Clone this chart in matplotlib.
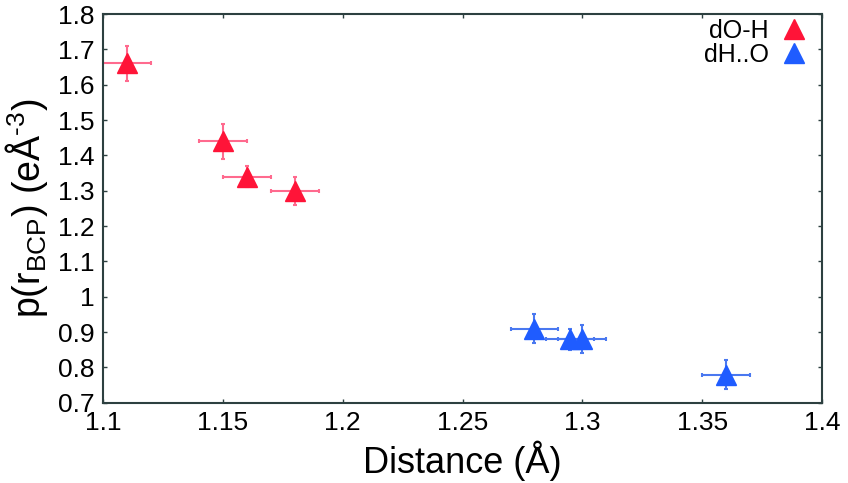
import matplotlib.pyplot as plt

plt.rcParams['font.family'] = ['Liberation Sans', 'DejaVu Sans']
plt.rcParams['mathtext.fontset'] = 'custom'
plt.rcParams['mathtext.rm'] = 'Liberation Sans'

# dO-H (red)
oh_x = [1.11, 1.15, 1.16, 1.18]
oh_y = [1.66, 1.44, 1.34, 1.30]
oh_xerr = [0.01, 0.01, 0.01, 0.01]
oh_yerr = [0.05, 0.05, 0.03, 0.04]

# dH..O (blue)
ho_x = [1.28, 1.295, 1.30, 1.36]
ho_y = [0.91, 0.88, 0.88, 0.78]
ho_xerr = [0.01, 0.01, 0.01, 0.01]
ho_yerr = [0.04, 0.03, 0.04, 0.04]

xticks = [1.1, 1.15, 1.2, 1.25, 1.3, 1.35, 1.4]
xtick_labels = ['1.1', '1.15', '1.2', '1.25', '1.3', '1.35', '1.4']
yticks = [0.7, 0.8, 0.9, 1.0, 1.1, 1.2, 1.3, 1.4, 1.5, 1.6, 1.7, 1.8]
ytick_labels = ['0.7', '0.8', '0.9', '1', '1.1', '1.2', '1.3', '1.4', '1.5', '1.6', '1.7', '1.8']

fig = plt.figure(figsize=(8.48, 4.83), dpi=100)
ax = fig.add_axes([0.1215, 0.166, 0.848, 0.805])

ax.errorbar(oh_x, oh_y, xerr=oh_xerr, yerr=oh_yerr, fmt='none', ecolor='#ff6a8e',
            elinewidth=1.5, capsize=1.5, capthick=1.5, zorder=2)
ax.plot(oh_x, oh_y, '^', color='#ff1438', markersize=14, label='dO-H', zorder=3)
ax.errorbar(ho_x, ho_y, xerr=ho_xerr, yerr=ho_yerr, fmt='none', ecolor='#4a78f0',
            elinewidth=1.5, capsize=1.5, capthick=1.5, zorder=2)
ax.plot(ho_x, ho_y, '^', color='#1f5cff', markersize=14, label='dH..O', zorder=3)

ax.set_xlim(1.1, 1.4)
ax.set_ylim(0.7, 1.8)
ax.set_xticks(xticks)
ax.set_xticklabels(xtick_labels)
ax.set_yticks(yticks)
ax.set_yticklabels(ytick_labels)
ax.tick_params(direction='in', top=True, right=True, length=3, width=1,
               color='#2d4040', labelsize=19, pad=6)
for s in ax.spines.values():
    s.set_color('#2d4040')
    s.set_linewidth(1.5)

ax.set_xlabel('Distance (Å)', fontsize=26, labelpad=4)
ax.set_ylabel(r'p(r$_{\mathregular{BCP}}$) (eÅ$^{\mathregular{\text{-}3}}$)', fontsize=27, labelpad=6)

ax.legend(loc='upper right', bbox_to_anchor=(0.985, 1.0), frameon=False,
          markerfirst=False, fontsize=18, handlelength=1.0, handletextpad=0.5,
          labelspacing=0.0, borderaxespad=0.0, borderpad=0.2, alignment='right')

fig.savefig('out.png', dpi=100)
